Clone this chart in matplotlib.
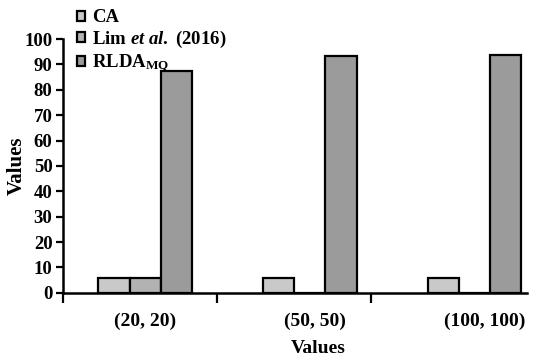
import numpy as np
import matplotlib.pyplot as plt

plt.rcParams["font.family"] = "Liberation Serif"
plt.rcParams["font.weight"] = "bold"
plt.rcParams["axes.labelweight"] = "bold"
plt.rcParams["mathtext.fontset"] = "custom"
plt.rcParams["mathtext.rm"] = "Liberation Serif:bold"
plt.rcParams["mathtext.it"] = "Liberation Serif:italic:bold"
plt.rcParams["mathtext.bf"] = "Liberation Serif:bold"

categories = ["(20, 20)", "(50, 50)", "(100, 100)"]
series_names = ["CA", r"Lim $\it{et\ al.}$ (2016)", r"RLDA$_{\rm MQ}$"]
ca = [5.8, 5.8, 5.8]
lim = [5.8, 0, 0]
rlda = [87.5, 93.5, 93.8]
colors = ["#c9c9c9", "#b2b2b2", "#9b9b9b"]

x = np.arange(len(categories))
w = 0.19

fig = plt.figure(figsize=(5.33, 3.58), dpi=100)
ax = fig.add_axes([0.118, 0.182, 0.871, 0.709])

for i, (vals, name) in enumerate(zip([ca, lim, rlda], series_names)):
    ax.bar(x + (i - 1) * w, vals, w, color=colors[i], edgecolor="black",
           linewidth=1.6, label=name)

ax.set_xlim(-0.5, 2.32)
ax.set_ylim(0, 100)
ax.set_yticks(np.arange(0, 101, 10))
ax.set_xticks(x + 0.03 * x)
ax.set_xticklabels(categories, fontsize=14)
ax.tick_params(axis="x", which="major", length=0, pad=14)
# category separators
ax.set_xticks(-0.5 + 0.935 * np.arange(3), minor=True)
ax.tick_params(axis="x", which="minor", length=7, width=1.6)
ax.tick_params(axis="y", length=5, width=1.6, labelsize=13.5, pad=2.5)

for s in ["top", "right"]:
    ax.spines[s].set_visible(False)
for s in ["left", "bottom"]:
    ax.spines[s].set_linewidth(1.8)

ax.set_xlabel("Values", fontsize=14)
ax.set_ylabel("Values", fontsize=15)
ax.xaxis.set_label_coords(0.55, -0.185)
ax.yaxis.set_label_coords(-0.078, 0.5)

fig.legend(loc="upper left", bbox_to_anchor=(0.13, 0.995), frameon=False,
           fontsize=13.5, handlelength=0.45, handleheight=0.45, handletextpad=0.35,
           labelspacing=0.14, borderaxespad=0)

fig.savefig("out.png", dpi=100)
